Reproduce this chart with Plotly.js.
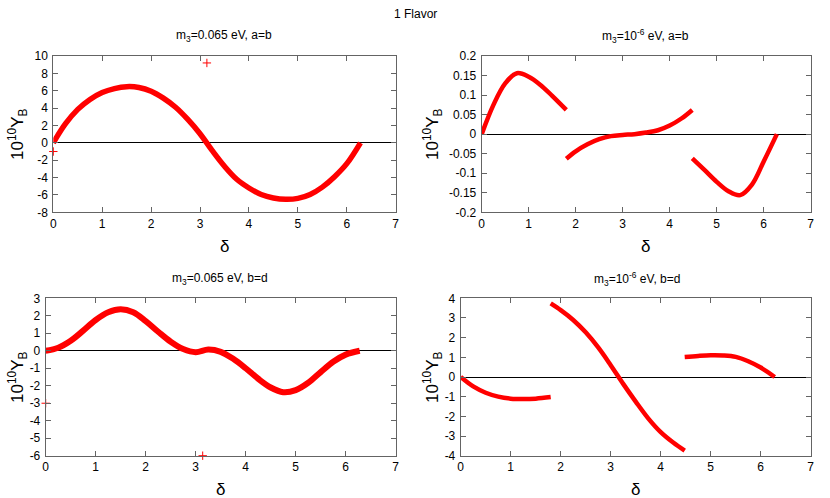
<!DOCTYPE html>
<html>
<head>
<meta charset="utf-8">
<script src="https://cdn.plot.ly/plotly-3.0.1.min.js"></script>
<style>
  body { margin: 0; background: #fff; }
  #chart { width: 830px; height: 498px; }
</style>
</head>
<body>
<div id="chart"></div>
<script>
// values, delta on x, 10^10 Y_B on y

// m3 = 0.065 eV, a=b
var tlX = [0, 0.25, 0.5, 0.75, 1, 1.25, 1.5, 1.75, 2, 2.25, 2.5, 2.75, 3, 3.25, 3.5, 3.75, 4, 4.25, 4.5, 4.75, 5, 5.25, 5.5, 5.75, 6, 6.28];
var tlY = [0, 2.2, 3.85, 5.0, 5.8, 6.25, 6.47, 6.38, 5.95, 5.15, 4.1, 2.7, 1.05, -0.9, -2.7, -4.2, -5.2, -5.95, -6.35, -6.5, -6.4, -5.95, -5.1, -3.9, -2.4, 0];
var tlPtsX = [0, 3.14];
var tlPtsY = [-1, 9.2];

// m3 = 1e-6 eV, a=b (three branches)
var tr1X = [0, 0.25, 0.5, 0.75, 1, 1.25, 1.5, 1.8];
var tr1Y = [0, 0.075, 0.13, 0.156, 0.147, 0.126, 0.098, 0.062];
var tr2X = [1.8, 2, 2.25, 2.5, 2.75, 3, 3.25, 3.5, 3.75, 4, 4.25, 4.48];
var tr2Y = [-0.063, -0.044, -0.026, -0.013, -0.005, -0.002, 0, 0.004, 0.01, 0.022, 0.04, 0.062];
var tr3X = [4.48, 4.75, 5, 5.25, 5.5, 5.75, 6, 6.28];
var tr3Y = [-0.062, -0.093, -0.122, -0.146, -0.156, -0.129, -0.07, 0];

// m3 = 0.065 eV, b=d
var blX = [0, 0.25, 0.5, 0.75, 1, 1.25, 1.5, 1.75, 2, 2.25, 2.5, 2.75, 3, 3.25, 3.5, 3.75, 4, 4.25, 4.5, 4.75, 5, 5.25, 5.5, 5.75, 6, 6.28];
var blY = [0, 0.17, 0.57, 1.15, 1.76, 2.2, 2.37, 2.2, 1.7, 1.09, 0.52, 0.1, -0.08, 0.07, -0.06, -0.46, -1.0, -1.6, -2.1, -2.37, -2.25, -1.83, -1.22, -0.63, -0.22, 0];
var blPtsX = [0, 3.14];
var blPtsY = [-3, -6];

// m3 = 1e-6 eV, b=d (three branches)
var br1X = [0, 0.25, 0.5, 0.75, 1, 1.25, 1.5, 1.8];
var br1Y = [0, -0.48, -0.8, -1.0, -1.1, -1.12, -1.1, -1.02];
var br2X = [1.8, 2, 2.25, 2.5, 2.75, 3, 3.25, 3.5, 3.75, 4, 4.25, 4.48];
var br2Y = [3.74, 3.4, 2.9, 2.27, 1.5, 0.6, -0.35, -1.25, -2.1, -2.8, -3.33, -3.74];
var br3X = [4.48, 4.75, 5, 5.25, 5.5, 5.75, 6, 6.28];
var br3Y = [1.02, 1.07, 1.1, 1.09, 1.02, 0.8, 0.48, 0];

// tick values
var xTicks = [0, 1, 2, 3, 4, 5, 6, 7];
var tlTicks = [-8, -6, -4, -2, 0, 2, 4, 6, 8, 10];
var trTicks = [-0.2, -0.15, -0.1, -0.05, 0, 0.05, 0.1, 0.15, 0.2];
var blTicks = [-6, -5, -4, -3, -2, -1, 0, 1, 2, 3];
var brTicks = [-4, -3, -2, -1, 0, 1, 2, 3, 4];

var FONT = 'Liberation Sans, Arial, sans-serif';
var RED = '#ff0000';
var FRAME = 'rgb(100,100,100)';

function curve(x, y, xa, ya, w) {
  return {x: x, y: y, xaxis: xa, yaxis: ya, type: 'scatter', mode: 'lines',
          line: {color: RED, width: w, shape: 'spline', smoothing: 1},
          hoverinfo: 'skip', showlegend: false};
}
function points(x, y, xa, ya) {
  return {x: x, y: y, xaxis: xa, yaxis: ya, type: 'scatter', mode: 'markers',
          marker: {symbol: 'cross-thin', size: 6, color: RED, line: {color: RED, width: 1}},
          cliponaxis: false, hoverinfo: 'skip', showlegend: false};
}

var data = [
  curve(tlX, tlY, 'x', 'y', 5.5),
  points(tlPtsX, tlPtsY, 'x', 'y'),
  curve(tr1X, tr1Y, 'x2', 'y2', 4.5),
  curve(tr2X, tr2Y, 'x2', 'y2', 4.5),
  curve(tr3X, tr3Y, 'x2', 'y2', 4.5),
  curve(blX, blY, 'x3', 'y3', 6),
  points(blPtsX, blPtsY, 'x3', 'y3'),
  curve(br1X, br1Y, 'x4', 'y4', 4.5),
  curve(br2X, br2Y, 'x4', 'y4', 4.5),
  curve(br3X, br3Y, 'x4', 'y4', 4.5)
];

function xAxis(dom, anchor) {
  return {domain: dom, anchor: anchor, range: [0, 7], tickvals: xTicks, ticktext: xTicks.map(String),
          ticks: 'inside', ticklen: 5, tickcolor: FRAME, mirror: 'allticks',
          showline: true, linecolor: FRAME, linewidth: 1, showgrid: false, zeroline: false,
          tickfont: {family: FONT, size: 12, color: '#000'}, fixedrange: true};
}
function yAxis(dom, anchor, range, ticks) {
  return {domain: dom, anchor: anchor, range: range, tickvals: ticks, ticktext: ticks.map(String),
          ticks: 'inside', ticklen: 5, tickcolor: FRAME, mirror: 'allticks',
          showline: true, linecolor: FRAME, linewidth: 1, showgrid: false,
          zeroline: true, zerolinecolor: '#000', zerolinewidth: 1,
          tickfont: {family: FONT, size: 12, color: '#000'}, ticklabelstandoff: 2, fixedrange: true};
}

var W = 830, H = 498;
function px(x) { return x / W; }
function py(y) { return 1 - y / H; }

var topY = [py(212.3), py(56)];
var botY = [py(455.7), py(298.3)];

function label(text, x, y, size, angle) {
  return {text: text, xref: 'paper', yref: 'paper', x: px(x), y: py(y),
          xanchor: 'center', yanchor: 'middle', showarrow: false, textangle: angle || 0,
          font: {family: FONT, size: size, color: '#000'}};
}

var yTitle = '10<sup>10</sup>Y<sub>B</sub>';

var layout = {
  width: W, height: H,
  margin: {l: 0, r: 0, t: 0, b: 0},
  paper_bgcolor: '#fff', plot_bgcolor: '#fff',
  showlegend: false,
  xaxis: xAxis([px(53.3), px(395.7)], 'y'),
  yaxis: yAxis(topY, 'x', [-8, 10], tlTicks),
  xaxis2: xAxis([px(481.7), px(810.7)], 'y2'),
  yaxis2: yAxis(topY, 'x2', [-0.2, 0.2], trTicks),
  xaxis3: xAxis([px(45.7), px(395.7)], 'y3'),
  yaxis3: yAxis(botY, 'x3', [-6, 3], blTicks),
  xaxis4: xAxis([px(460.7), px(810.7)], 'y4'),
  yaxis4: yAxis(botY, 'x4', [-4, 4], brTicks),
  annotations: [
    label('1 Flavor', 415, 14, 12),
    label('m<sub>3</sub>=0.065 eV, a=b', 224, 36, 12),
    label('m<sub>3</sub>=10<sup>-6</sup> eV, a=b', 645, 36, 12),
    label('m<sub>3</sub>=0.065 eV, b=d', 220, 279, 12),
    label('m<sub>3</sub>=10<sup>-6</sup> eV, b=d', 637, 279, 12),
    label(yTitle, 17, 134, 17, -90),
    label(yTitle, 432, 134, 17, -90),
    label(yTitle, 17, 377, 17, -90),
    label(yTitle, 432, 377, 17, -90),
    label('δ', 224, 247, 17),
    label('δ', 645, 247, 17),
    label('δ', 220, 489, 17),
    label('δ', 635, 489, 17)
  ]
};

Plotly.newPlot('chart', data, layout, {displayModeBar: false, staticPlot: true});
</script>
</body>
</html>
